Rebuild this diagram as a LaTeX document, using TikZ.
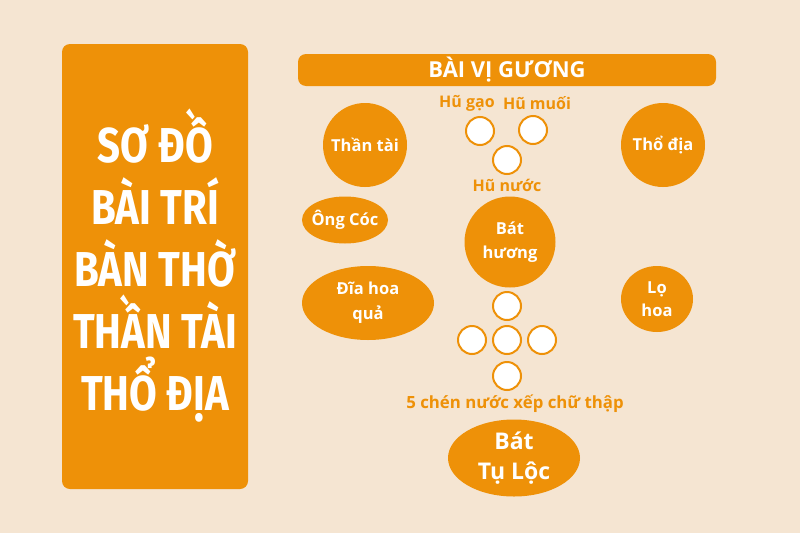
\documentclass[tikz,border=0pt]{standalone}
\usepackage{fontspec}
\usepackage{graphicx}
\setmainfont{Open Sans}
\newfontfamily\titlefont{Fira Sans}
\usetikzlibrary{shapes.geometric}
\definecolor{cam}{RGB}{238,145,8}
\definecolor{nen}{RGB}{245,229,210}

\begin{document}
\begin{tikzpicture}[x=1pt,y=-1pt]
   \tikzstyle{khung}=[fill=cam, rounded corners=8pt, inner sep=0pt, text=white]
   \tikzstyle{vong}=[circle, fill=cam, text=white, align=center, inner sep=0pt, font=\bfseries\fontsize{16.5}{24}\selectfont]
   \tikzstyle{bau}=[ellipse, fill=cam, inner sep=0pt]
   \tikzstyle{chu}=[text=white, align=center, inner sep=0pt, font=\bfseries\fontsize{16.5}{25}\selectfont]
   \tikzstyle{chen}=[circle, draw=cam, line width=2pt, fill=white, minimum size=28pt, inner sep=0pt]
   \tikzstyle{nhan}=[text=cam, inner sep=0pt, font=\bfseries\fontsize{16}{19}\selectfont]
   \tikzstyle{tde}=[text=white, inner sep=0pt, anchor=base, font=\titlefont\bfseries\fontsize{49}{58}\selectfont]

\fill[nen] (0,0) rectangle (800,533);
\useasboundingbox (0,0) rectangle (800,533);

% left title panel
\node[khung, minimum width=186pt, minimum height=445pt] (tieude) at (155,266.5) {};
\node[tde] (dong1) at (155,162) {\scalebox{0.82}[1]{SƠ ĐỒ}};
\node[tde] (dong2) at (155,224) {\scalebox{0.82}[1]{BÀI TRÍ}};
\node[tde] (dong3) at (155,286) {\scalebox{0.82}[1]{BÀN THỜ}};
\node[tde] (dong4) at (155,348) {\scalebox{0.82}[1]{THẦN TÀI}};
\node[tde] (dong5) at (155,410) {\scalebox{0.82}[1]{THỔ ĐỊA}};

% top bar
\node[khung, minimum width=418pt, minimum height=32pt, font=\bfseries\fontsize{22}{26}\selectfont] (baivi) at (507,70) {BÀI VỊ GƯƠNG};

% gods
\node[vong, minimum size=84pt] (thantai) at (365,145) {Thần tài};
\node[vong, minimum size=84pt] (thodia) at (663,145) {Thổ địa};

% jars
\node[chen] (hugao) at (480,131) {};
\node[chen] (humuoi) at (533,130) {};
\node[chen] (hunuoc) at (507,160) {};
\node[nhan] (tgao) at (467,103) {Hũ gạo};
\node[nhan] (tmuoi) at (537,103) {Hũ muối};
\node[nhan] (tnuoc) at (507,185) {Hũ nước};

% middle row
\node[bau, minimum width=86pt, minimum height=47pt] (ongcoc) at (345,220) {};
\node[chu] (tongcoc) at (ongcoc) {Ông Cóc};
\node[vong, minimum size=91pt] (bathuong) at (510,242) {Bát\\hương};
\node[bau, minimum width=132pt, minimum height=74pt] (diahoa) at (368,303) {};
\node[chu] (tdiahoa) at (diahoa) {Đĩa hoa\\quả};
\node[bau, minimum width=72pt, minimum height=66pt] (lohoa) at (657,299) {};
\node[chu, font=\bfseries\fontsize{16.5}{23}\selectfont] (tlohoa) at (lohoa) {Lọ\\hoa};

% five cups in a cross
\node[chen] (chen1) at (507,306) {};
\node[chen] (chen2) at (472,340) {};
\node[chen] (chen3) at (507,340) {};
\node[chen] (chen4) at (542,340) {};
\node[chen] (chen5) at (507,376) {};
\node[nhan, font=\bfseries\fontsize{16.8}{20}\selectfont] (tchen) at (515,404) {5 chén nước xếp chữ thập};

% bottom
\node[bau, minimum width=132pt, minimum height=77pt] (tuloc) at (514,458) {};
\node[chu, font=\bfseries\fontsize{23}{30}\selectfont] (ttuloc) at (tuloc) {Bát\\Tụ Lộc};

\end{tikzpicture}
\end{document}
